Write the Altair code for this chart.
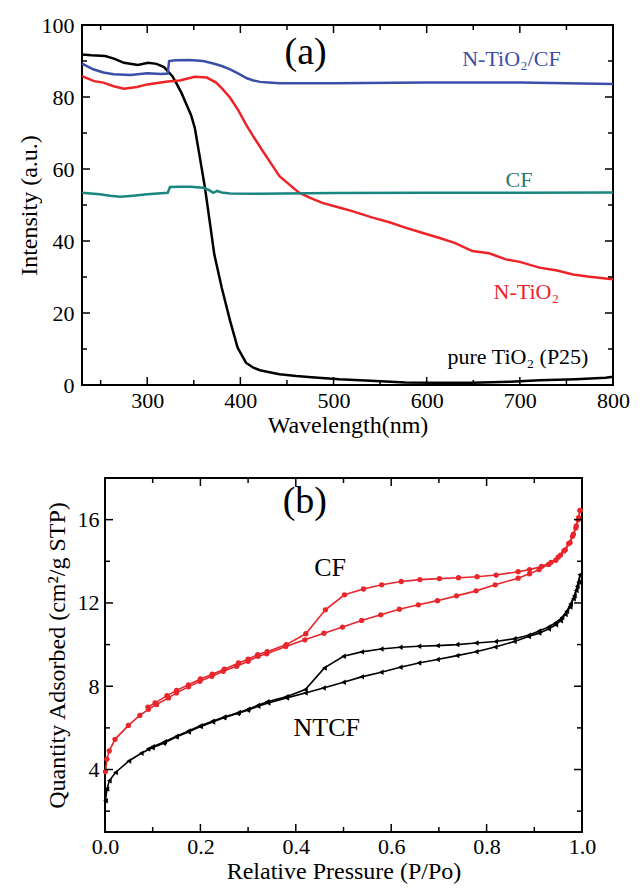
import altair as alt
import pandas as pd

FONT = "Liberation Serif"

# ---------------- Panel (a): UV-vis diffuse reflectance ----------------
p25_wl = [230, 240, 255, 265, 275, 290, 301, 310, 318, 322, 327, 332, 337, 342, 347, 351, 356,
          362, 367, 372, 380, 389, 397, 406, 414, 421, 430, 442, 460, 480, 506, 540, 577, 610,
          649, 690, 721, 760, 792, 800]
p25_int = [91.8, 91.6, 91.4, 90.6, 89.5, 88.9, 89.5, 89.2, 88.3, 87.2, 85.8, 83.5, 81.0, 78.0,
           75.0, 71.5, 64.0, 54.8, 45.6, 36.3, 27.0, 17.8, 10.4, 6.2, 4.8, 4.1, 3.6, 3.0, 2.5,
           2.1, 1.6, 1.2, 0.7, 0.6, 0.65, 0.9, 1.3, 1.6, 2.0, 2.3]

ntcf_wl = [230, 242, 253, 264, 282, 300, 315, 322, 323.5, 330, 345, 360, 371, 380, 389, 398,
           407, 414, 421, 430, 442, 500, 600, 700, 800]
ntcf_int = [89.3, 87.7, 86.8, 86.3, 86.1, 86.6, 86.4, 86.5, 90.0, 90.2, 90.3, 90.0, 89.3, 88.6,
            87.7, 86.5, 85.2, 84.6, 84.2, 84.0, 83.8, 83.8, 84.0, 84.0, 83.6]

nt_wl = [230, 243, 253, 264, 275, 289, 300, 322, 335, 351, 364, 374, 381, 389, 398, 406, 415,
         424, 433, 442, 452, 463, 475, 488, 506, 520, 542, 560, 577, 595, 613, 630, 649, 667,
         685, 700, 721, 740, 757, 775, 792, 800]
nt_int = [85.8, 84.4, 84.0, 83.0, 82.3, 82.8, 83.5, 84.3, 84.6, 85.6, 85.4, 84.0, 82.2, 79.8,
          76.2, 72.4, 68.6, 65.0, 61.5, 58.0, 55.8, 53.4, 52.0, 50.6, 49.3, 48.3, 46.5, 45.2,
          43.7, 42.3, 40.9, 39.5, 37.2, 36.6, 34.9, 34.2, 32.6, 31.8, 30.7, 30.1, 29.6, 29.4]

cf_wl = [230, 249, 260, 271, 285, 300, 322, 324.5, 335, 346, 360, 366, 371, 375, 380, 389,
         420, 500, 600, 700, 800]
cf_int = [53.4, 53.0, 52.6, 52.3, 52.6, 53.0, 53.4, 55.0, 55.1, 55.1, 54.8, 54.2, 53.4, 53.9,
          53.5, 53.2, 53.1, 53.3, 53.4, 53.4, 53.5]

series_a = ["pure TiO2 (P25)", "N-TiO2/CF", "N-TiO2", "CF"]
colors_a = ["#000000", "#3b4fa8", "#ee2328", "#1a8680"]

labels_a = ["(a)", "N-TiO\u2082/CF", "CF", "N-TiO\u2082", "pure TiO\u2082 (P25)"]
labels_a_x = [470, 691, 699, 707, 698]
labels_a_y = [92.3, 90.5, 56.9, 25.8, 7.8]
labels_a_col = ["#000000", "#3b4fa8", "#2a7a72", "#ee2328", "#000000"]
labels_a_size = [38, 22, 22, 22, 22]

a_x_major = [300, 400, 500, 600, 700, 800]
a_x_minor = [250, 350, 450, 550, 650, 750]
a_y_major = [0, 20, 40, 60, 80, 100]
a_y_minor = [10, 30, 50, 70, 90]

# ---------------- Panel (b): N2 adsorption isotherms ----------------
cf_ads_p = [0.001, 0.004, 0.009, 0.021, 0.049, 0.073, 0.091, 0.108, 0.133, 0.150, 0.175, 0.199,
            0.224, 0.248, 0.276, 0.300, 0.321, 0.339, 0.379, 0.419, 0.459, 0.498, 0.538, 0.578,
            0.617, 0.657, 0.697, 0.737, 0.778, 0.818, 0.866, 0.890, 0.910, 0.930, 0.945, 0.955,
            0.965, 0.975, 0.982, 0.988, 0.993, 0.996]
cf_ads_q = [3.9, 4.5, 4.9, 5.45, 6.12, 6.6, 6.89, 7.12, 7.44, 7.68, 7.97, 8.24, 8.48, 8.72,
            8.96, 9.2, 9.44, 9.56, 9.91, 10.23, 10.55, 10.84, 11.16, 11.43, 11.7, 11.91, 12.11,
            12.34, 12.58, 12.87, 13.19, 13.4, 13.6, 13.85, 14.05, 14.3, 14.55, 14.9, 15.3, 15.7,
            16.1, 16.45]
cf_des_p = [0.996, 0.992, 0.987, 0.980, 0.972, 0.962, 0.950, 0.935, 0.915, 0.890, 0.866, 0.820,
            0.780, 0.741, 0.701, 0.660, 0.621, 0.580, 0.542, 0.502, 0.462, 0.421, 0.380, 0.340,
            0.320, 0.300, 0.280, 0.250, 0.225, 0.200, 0.175, 0.150, 0.130, 0.105, 0.090]
cf_des_q = [16.45, 16.0, 15.6, 15.2, 14.85, 14.5, 14.2, 13.95, 13.75, 13.6, 13.5, 13.34, 13.26,
            13.21, 13.17, 13.12, 13.03, 12.87, 12.67, 12.39, 11.67, 10.52, 10.0, 9.66, 9.52, 9.3,
            9.12, 8.82, 8.58, 8.35, 8.07, 7.8, 7.55, 7.2, 7.0]

nt_ads_p = [0.001, 0.004, 0.009, 0.022, 0.050, 0.076, 0.099, 0.123, 0.149, 0.175, 0.200, 0.226,
            0.249, 0.278, 0.299, 0.321, 0.342, 0.381, 0.420, 0.458, 0.500, 0.538, 0.579, 0.619,
            0.658, 0.697, 0.738, 0.778, 0.818, 0.858, 0.888, 0.910, 0.930, 0.945, 0.955, 0.965,
            0.975, 0.982, 0.988, 0.993, 0.996]
nt_ads_q = [2.5, 3.06, 3.46, 3.86, 4.41, 4.78, 5.05, 5.26, 5.56, 5.8, 6.06, 6.28, 6.49, 6.69,
            6.85, 7.04, 7.2, 7.44, 7.68, 7.92, 8.19, 8.45, 8.67, 8.91, 9.12, 9.28, 9.47, 9.66,
            9.88, 10.15, 10.39, 10.55, 10.75, 10.95, 11.15, 11.45, 11.8, 12.2, 12.6, 13.0, 13.35]
nt_des_p = [0.996, 0.990, 0.984, 0.976, 0.968, 0.958, 0.945, 0.930, 0.910, 0.888, 0.858, 0.819,
            0.778, 0.738, 0.697, 0.658, 0.619, 0.579, 0.538, 0.500, 0.460, 0.420, 0.380, 0.340,
            0.320, 0.300, 0.280, 0.250, 0.225, 0.200, 0.175, 0.150, 0.125, 0.100, 0.090]
nt_des_q = [13.35, 12.8, 12.35, 11.95, 11.6, 11.3, 11.05, 10.85, 10.65, 10.45, 10.28, 10.15,
            10.08, 10.0, 9.95, 9.92, 9.87, 9.79, 9.65, 9.44, 8.88, 7.84, 7.5, 7.25, 7.08, 6.9,
            6.74, 6.52, 6.32, 6.1, 5.85, 5.6, 5.33, 5.1, 4.98]

labels_b = ["(b)", "CF", "NTCF"]
labels_b_x = [0.419, 0.472, 0.465]
labels_b_y = [16.85, 13.66, 6.0]
labels_b_size = [38, 26, 26]

b_x_major = [0.0, 0.2, 0.4, 0.6, 0.8, 1.0]
b_x_minor = [0.1, 0.3, 0.5, 0.7, 0.9]
b_y_major = [4, 8, 12, 16]
b_y_minor = [2, 6, 10, 14, 18]

# ---------------- build tables ----------------
rows = []
for name, wl, it in zip(series_a, [p25_wl, ntcf_wl, nt_wl, cf_wl],
                        [p25_int, ntcf_int, nt_int, cf_int]):
    for w, v in zip(wl, it):
        rows.append({"series": name, "x": w, "y": v})
df_a = pd.DataFrame(rows)

df_a_lab = pd.DataFrame({"t": labels_a, "x": labels_a_x, "y": labels_a_y,
                         "c": labels_a_col, "s": labels_a_size})

rows = []
for name, p, q in [("CF ads", cf_ads_p, cf_ads_q), ("CF des", cf_des_p, cf_des_q)]:
    for a, b in zip(p, q):
        rows.append({"branch": name, "x": a, "y": b})
df_cf = pd.DataFrame(rows)
rows = []
for name, p, q in [("NTCF ads", nt_ads_p, nt_ads_q), ("NTCF des", nt_des_p, nt_des_q)]:
    for a, b in zip(p, q):
        rows.append({"branch": name, "x": a, "y": b})
df_nt = pd.DataFrame(rows)

df_b_lab = pd.DataFrame({"t": labels_b, "x": labels_b_x, "y": labels_b_y, "s": labels_b_size})

W_A, H_A = 531, 360
W_B, H_B = 477, 354


def tick_layers(X, Y, xmaj, xmin, ymaj, ymin, W, H):
    """Inward mirrored ticks on all four sides, drawn through the shared scales."""
    out = []
    for vals, L in [(xmaj, 8), (xmin, 5)]:
        base = alt.Chart(pd.DataFrame({"x": vals})).mark_rule(color="black", strokeWidth=1.5)
        out.append(base.encode(x=X, y=alt.value(H), y2=alt.value(H - L)))
        out.append(base.encode(x=X, y=alt.value(0), y2=alt.value(L)))
    for vals, L in [(ymaj, 8), (ymin, 5)]:
        base = alt.Chart(pd.DataFrame({"y": vals})).mark_rule(color="black", strokeWidth=1.5)
        out.append(base.encode(y=Y, x=alt.value(0), x2=alt.value(L)))
        out.append(base.encode(y=Y, x=alt.value(W), x2=alt.value(W - L)))
    return out


# ---------------- panel (a) ----------------
XA = alt.X("x:Q", scale=alt.Scale(domain=[230, 800], nice=False, zero=False),
           axis=alt.Axis(title="Wavelength(nm)", values=a_x_major, format="d",
                         labelPadding=5, titlePadding=2))
YA = alt.Y("y:Q", scale=alt.Scale(domain=[0, 100], nice=False, zero=False),
           axis=alt.Axis(title="Intensity (a.u.)", values=a_y_major, format="d",
                         labelPadding=8, titlePadding=0))

lines_a = alt.Chart(df_a).mark_line(strokeWidth=2.5).encode(
    x=XA, y=YA,
    color=alt.Color("series:N", scale=alt.Scale(domain=series_a, range=colors_a), legend=None),
    detail="series:N",
)

text_a = alt.Chart(df_a_lab).mark_text(font=FONT, baseline="middle", align="center").encode(
    x=XA, y=YA,
    text="t:N",
    color=alt.Color("c:N", scale=None),
    size=alt.Size("s:Q", scale=None),
)

panel_a = alt.layer(
    lines_a, text_a,
    *tick_layers(XA, YA, a_x_major, a_x_minor, a_y_major, a_y_minor, W_A, H_A)
).properties(width=W_A, height=H_A)

# ---------------- panel (b) ----------------
XB = alt.X("x:Q", scale=alt.Scale(domain=[0, 1], nice=False, zero=False),
           axis=alt.Axis(title="Relative Pressure (P/Po)", values=b_x_major, format=".1f",
                         labelPadding=4, titlePadding=2))
YB = alt.Y("y:Q", scale=alt.Scale(domain=[1, 18], nice=False, zero=False),
           axis=alt.Axis(title="Quantity Adsorbed (cm\u00b2/g STP)", values=b_y_major,
                         format="d", labelPadding=6, titlePadding=8))

RED_B = "#e8262c"

cf_line = alt.Chart(df_cf).mark_line(color=RED_B, strokeWidth=1.6).encode(
    x=XB, y=YB, detail="branch:N")
cf_pts = alt.Chart(df_cf).mark_point(shape="circle", filled=True, color=RED_B, size=28,
                                     opacity=1).encode(x=XB, y=YB)
nt_line = alt.Chart(df_nt).mark_line(color="black", strokeWidth=1.6).encode(
    x=XB, y=YB, detail="branch:N")
nt_pts = alt.Chart(df_nt).mark_point(shape="triangle-left", filled=True, color="black", size=30,
                                     opacity=1).encode(x=XB, y=YB)
text_b = alt.Chart(df_b_lab).mark_text(font=FONT, baseline="middle", align="center",
                                       color="black").encode(
    x=XB, y=YB, text="t:N", size=alt.Size("s:Q", scale=None))

panel_b = alt.layer(
    cf_line, nt_line, cf_pts, nt_pts, text_b,
    *tick_layers(XB, YB, b_x_major, b_x_minor, b_y_major, b_y_minor, W_B, H_B)
).properties(width=W_B, height=H_B)


def spacer(w):
    return alt.Chart(pd.DataFrame({"s": [0]})).mark_point(opacity=0).properties(
        width=w, height=10, view=alt.ViewBackground(strokeOpacity=0, strokeWidth=0)
    )


# invisible spacers: panel (b) sits further right than panel (a) in the reference
row_a = alt.hconcat(spacer(2), panel_a, spacing=0)
row_b = alt.hconcat(spacer(32), panel_b, spacing=0)

chart = alt.vconcat(row_a, row_b, spacing=38).properties(
    padding={"left": 2, "top": 5, "right": 0, "bottom": 0}
).configure_view(
    stroke="black", strokeWidth=2
).configure_axis(
    labelFont=FONT, labelFontSize=22, labelColor="black",
    titleFont=FONT, titleFontSize=24, titleFontWeight="normal", titleColor="black",
    ticks=False, domain=False, grid=False, labelFlush=False, labelOverlap=False,
)

chart.save("out.html", embed_options={"renderer": "svg", "actions": False})
